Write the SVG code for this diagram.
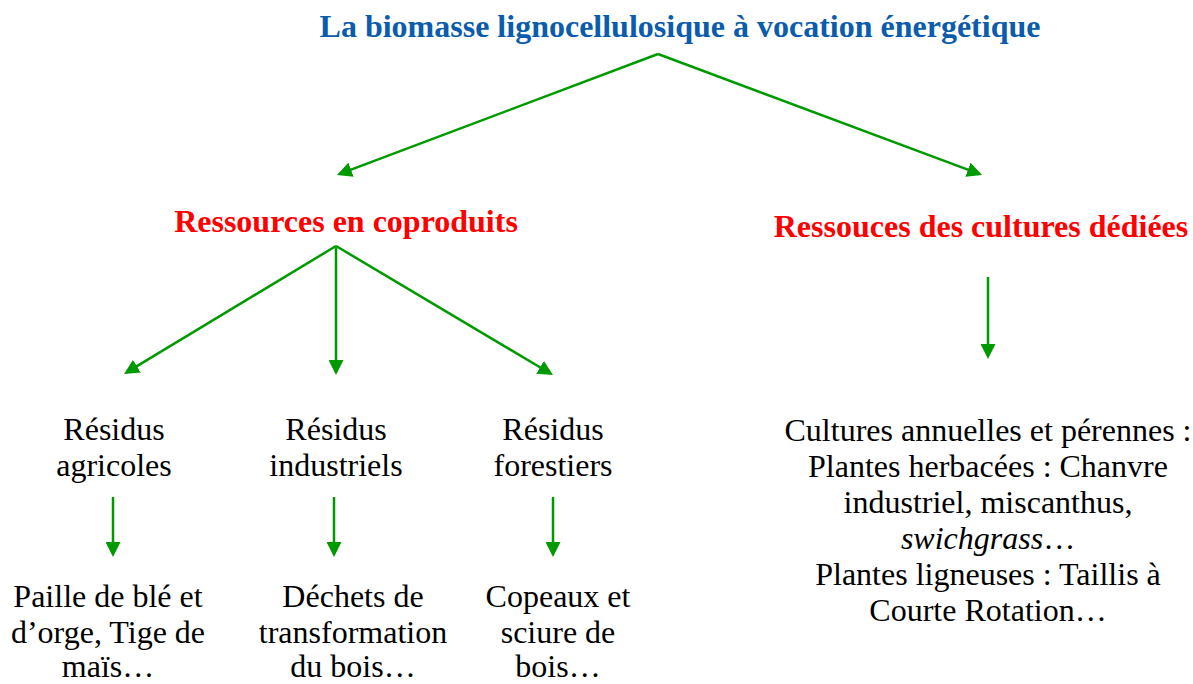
<svg xmlns="http://www.w3.org/2000/svg" width="1193" height="684" viewBox="0 0 1193 684">
<style>
  text { font-family: "Liberation Serif", Tinos, "Times New Roman", "DejaVu Serif", serif; text-anchor: middle; }
  .title { font-size: 32px; font-weight: bold; fill: #0B5CAD; }
  .cat { font-size: 32px; font-weight: bold; fill: #FF0000; }
  .body { font-size: 32px; fill: #000000; }
  .conn line { stroke: #009A00; stroke-width: 2.5; fill: none; marker-end: url(#ah); }
</style>
<defs>
  <marker id="ah" markerUnits="userSpaceOnUse" markerWidth="15" markerHeight="15" refX="12" refY="7.5" orient="auto">
    <path d="M0,0 L15,7.5 L0,15 z" fill="#009A00"/>
  </marker>
</defs>
<rect width="1193" height="684" fill="#ffffff"/>
<g id="connectors" class="conn">
  <line x1="658" y1="54" x2="339.8" y2="173.9"/>
  <line x1="658" y1="54" x2="979.2" y2="173.9"/>
  <line x1="336" y1="246" x2="126.6" y2="372.4"/>
  <line x1="336" y1="246" x2="336" y2="372"/>
  <line x1="336" y1="246" x2="550.4" y2="373.5"/>
  <line x1="988" y1="277" x2="988" y2="356"/>
  <line x1="113" y1="497" x2="113" y2="554"/>
  <line x1="334" y1="497" x2="334" y2="554"/>
  <line x1="553" y1="497" x2="553" y2="554"/>
</g>
<g id="title"><text class="title" x="680" y="37">La biomasse lignocellulosique à vocation énergétique</text></g>
<g id="coproduits"><text class="cat" x="346" y="232">Ressources en coproduits</text></g>
<g id="cultures"><text class="cat" x="981" y="237">Ressouces des cultures dédiées</text></g>
<g id="agricoles"><text class="body" x="114" y="440">Résidus</text><text class="body" x="114" y="476">agricoles</text></g>
<g id="industriels"><text class="body" x="336" y="440">Résidus</text><text class="body" x="336" y="476">industriels</text></g>
<g id="forestiers"><text class="body" x="553" y="440">Résidus</text><text class="body" x="553" y="476">forestiers</text></g>
<g id="paille"><text class="body" x="108" y="607">Paille de blé et</text><text class="body" x="108" y="643">d’orge, Tige de</text><text class="body" x="108" y="677">maïs…</text></g>
<g id="dechets"><text class="body" x="353" y="607">Déchets de</text><text class="body" x="353" y="643">transformation</text><text class="body" x="353" y="677">du bois…</text></g>
<g id="copeaux"><text class="body" x="558" y="607">Copeaux et</text><text class="body" x="558" y="643">sciure de</text><text class="body" x="558" y="677">bois…</text></g>
<g id="dediees">
  <text class="body" x="988" y="441">Cultures annuelles et pérennes :</text>
  <text class="body" x="988" y="477">Plantes herbacées : Chanvre</text>
  <text class="body" x="988" y="513">industriel, miscanthus,</text>
  <text class="body" x="988" y="549"><tspan font-style="italic">swichgrass</tspan>…</text>
  <text class="body" x="988" y="585">Plantes ligneuses : Taillis à</text>
  <text class="body" x="988" y="621">Courte Rotation…</text>
</g>
</svg>
